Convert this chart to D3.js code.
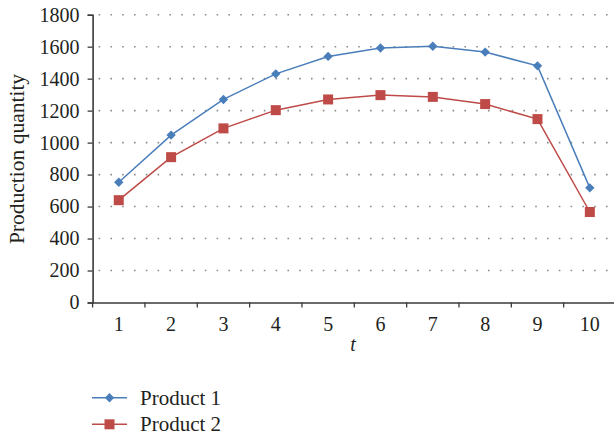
<!DOCTYPE html>
<html><head><meta charset="utf-8">
<script src="https://cdn.jsdelivr.net/npm/d3@7"></script>
<style>
html,body{margin:0;padding:0;background:#fff;}
svg text{font-family:"Liberation Serif","Times New Roman",serif;fill:#231f20;}
</style></head>
<body><svg id="c" width="614" height="436"></svg>
<script>
const categories = [1,2,3,4,5,6,7,8,9,10];
const product1 = [752,1047,1270,1430,1539,1592,1603,1566,1480,717];
const product2 = [640,909,1089,1203,1270,1297,1286,1241,1147,566];
const yTicks = [0,200,400,600,800,1000,1200,1400,1600,1800];
const seriesNames = ["Product 1","Product 2"];
const colors = ["#4a7ebb","#be4b48"];

const svg = d3.select("#c");
const x = d3.scaleBand().domain(categories).range([92.6, 616]).padding(0);
const y = d3.scaleLinear().domain([0,1800]).range([302.5, 14.7]);
const cx = d => x(d) + x.bandwidth()/2;

// gridlines
svg.append("g").selectAll("line").data(yTicks.filter(d=>d>0)).join("line")
  .attr("x1", 92.6).attr("x2", 614).attr("y1", d=>y(d)).attr("y2", d=>y(d))
  .attr("stroke", "#8c8c8c").attr("stroke-width", 1.6)
  .attr("stroke-dasharray", "1.6,10.2").attr("stroke-dashoffset", -6);

// y axis
const yAxis = svg.append("g").attr("transform","translate(92.6,0)")
  .call(d3.axisLeft(y).tickValues(yTicks).tickFormat(d3.format("d")).tickSize(5).tickPadding(8));
yAxis.attr("font-family", null).attr("font-size", 20);
yAxis.select(".domain").attr("stroke","#3a3a3a").attr("stroke-width",1.6);
yAxis.selectAll(".tick line").attr("stroke","#3a3a3a").attr("stroke-width",1.3);
yAxis.selectAll("text").attr("fill","#231f20");

// x axis
const xAxis = svg.append("g").attr("transform","translate(0,302.5)")
  .call(d3.axisBottom(x).tickSize(0).tickPadding(14));
xAxis.attr("font-family", null).attr("font-size", 20);
xAxis.select(".domain").attr("stroke","#3a3a3a").attr("stroke-width",1.6);
xAxis.selectAll("text").attr("fill","#231f20");
xAxis.selectAll("line.edge").data(categories).join("line").attr("class","edge")
  .attr("x1", d=>x(d)).attr("x2", d=>x(d)).attr("y1",0).attr("y2",5)
  .attr("stroke","#3a3a3a").attr("stroke-width",1.3);

// axis titles
svg.append("text").attr("x", 353).attr("y", 351)
  .attr("text-anchor","middle").attr("font-size",20).attr("font-style","italic").text("t");
svg.append("text").attr("transform","translate(24,159) rotate(-90)")
  .attr("text-anchor","middle").attr("font-size",21.5).text("Production quantity");

// series
const seriesData = [product1, product2];
const line = d3.line().x((d,i)=>cx(categories[i])).y(d=>y(d));
seriesData.forEach((vals, si) => {
  svg.append("path").datum(vals).attr("d", line)
    .attr("fill","none").attr("stroke", colors[si]).attr("stroke-width",1.5);
});
const diamond = d3.symbol().type(d3.symbolDiamond2).size(56);
svg.append("g").selectAll("path").data(product1).join("path")
  .attr("d", diamond).attr("transform",(d,i)=>`translate(${cx(categories[i])},${y(d)})`)
  .attr("fill", colors[0]);
svg.append("g").selectAll("rect").data(product2).join("rect")
  .attr("x",(d,i)=>cx(categories[i])-5).attr("y",d=>y(d)-5)
  .attr("width",10).attr("height",10).attr("fill", colors[1]);

// legend
const legY = [397.7, 424.3];
seriesNames.forEach((name, i) => {
  const g = svg.append("g").attr("transform",`translate(0,${legY[i]})`);
  g.append("line").attr("x1",92).attr("x2",127).attr("y1",0).attr("y2",0)
    .attr("stroke",colors[i]).attr("stroke-width",1.5);
  if (i===0) g.append("path").attr("d",diamond).attr("transform","translate(109.5,0)").attr("fill",colors[0]);
  else g.append("rect").attr("x",104.5).attr("y",-5).attr("width",10).attr("height",10).attr("fill",colors[1]);
  g.append("text").attr("x",140).attr("y",7).attr("font-size",21).text(name);
});
</script></body></html>
